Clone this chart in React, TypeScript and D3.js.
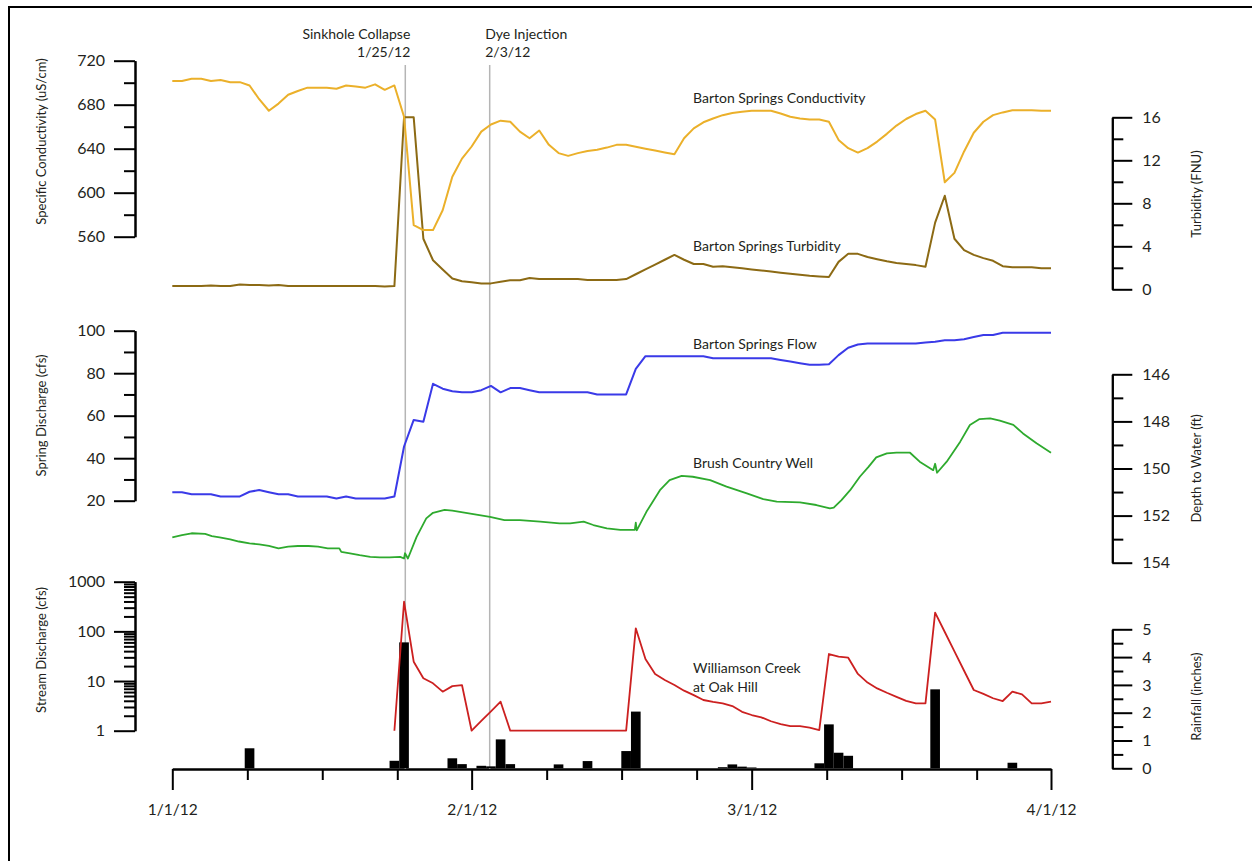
import React, { useEffect, useRef } from 'react';
import * as d3 from 'd3';

// ---- data (day offsets counted from 1/1/2012) ----
const START = Date.UTC(2012, 0, 1);
const DAY = 864e5;
const toDate = (d: number) => new Date(START + d * DAY);

const monthStarts = [0, 31, 60, 91];
const monthLabels = ['1/1/12', '2/1/12', '3/1/12', '4/1/12'];
const weekOffsets = [7.77, 15.53, 23.3];

const events = [
  { day: 24.13, name: 'Sinkhole Collapse', date: '1/25/12', side: 'left' },
  { day: 32.87, name: 'Dye Injection', date: '2/3/12', side: 'right' },
];

// daily values, day 0..91
const conductivity = [
  701.5, 701.5, 703.5, 703.5, 701.5, 702.5, 700.5, 700.5, 697.5, 685,
  674.5, 681, 689, 692.5, 695.5, 695.5, 695.5, 694.5, 697.5, 696.5,
  695.5, 698.5, 693.5, 697.5, 669, 570.5, 566, 566, 584, 614.5,
  631, 642, 655.5, 662, 665.5, 664.5, 655.5, 649.5, 656.5, 643.5,
  636, 633.5, 636, 638, 639, 641, 643.5, 643.5, 641.8, 640,
  638.3, 636.6, 635, 649.5, 658.5, 664, 667.5, 670.5, 672.5, 673.5,
  674.5, 674.5, 674.5, 672, 669, 667.5, 666.5, 666.5, 664.5, 648,
  640.5, 636.5, 640.5, 646.5, 653.5, 661, 667, 671.5, 674.5, 666.5,
  609.5, 618, 637.5, 654.5, 664.5, 670.5, 673, 675, 675, 675,
  674.5, 674.5,
];

const turbidity = [
  0.3, 0.3, 0.3, 0.3, 0.35, 0.3, 0.3, 0.45, 0.4, 0.4,
  0.35, 0.4, 0.3, 0.3, 0.3, 0.3, 0.3, 0.3, 0.3, 0.3,
  0.3, 0.3, 0.25, 0.3, 16, 16, 4.7, 2.7, 1.85, 1.0,
  0.75, 0.65, 0.55, 0.55, 0.7, 0.85, 0.85, 1.05, 0.95, 0.95,
  0.95, 0.95, 0.95, 0.87, 0.87, 0.87, 0.87, 0.95, 1.4, 1.85,
  2.3, 2.75, 3.2, 2.75, 2.35, 2.35, 2.1, 2.15, 2.05, 1.95,
  1.85, 1.75, 1.65, 1.55, 1.45, 1.35, 1.25, 1.2, 1.15, 2.55,
  3.3, 3.3, 3.0, 2.8, 2.6, 2.45, 2.35, 2.25, 2.1, 6.2,
  8.7, 4.7, 3.65, 3.2, 2.9, 2.65, 2.15, 2.05, 2.05, 2.05,
  1.95, 1.95,
];

const springFlow = [
  24, 24, 23, 23, 23, 22, 22, 22, 24.2, 25,
  24, 23, 23, 22, 22, 22, 22, 21, 22, 21,
  21, 21, 21, 22, 45.5, 58, 57.2, 75, 72.7, 71.5,
  71, 71, 72, 74, 71, 73, 73, 72, 71, 71,
  71, 71, 71, 71, 70, 70, 70, 70, 82, 88,
  88, 88, 88, 88, 88, 88, 87, 87, 87, 87,
  87, 87, 87, 86.2, 85.5, 84.7, 84, 84, 84.2, 88.5,
  92, 93.5, 94, 94, 94, 94, 94, 94, 94.4, 94.8,
  95.5, 95.5, 96, 97, 98, 98, 99, 99, 99, 99,
  99, 99,
];

const wellDays = [
  0, 1, 2, 3.4, 4.1, 4.9, 6, 6.9, 8, 9, 10, 11, 12, 13, 14.1, 15.1, 16.1, 17.3, 17.5,
  18.4, 19.4, 20.5, 21.5, 22.5, 23.6, 24, 24.1, 24.4, 25.3, 26.3, 27, 28.2, 29, 30.4,
  31.8, 32.9, 34.4, 36, 38.1, 40.1, 41.2, 42.6, 43.6, 45, 46.4, 47.9, 48, 48.1, 49.1,
  50.5, 51.5, 52.75, 53.9, 55.7, 57.4, 59.5, 61.2, 62.6, 65, 66.7, 68.1, 68.5, 69.3,
  70.2, 71.2, 72.1, 72.9, 74, 75, 76.4, 77.4, 78.8, 79, 79.2, 80.2, 81.6, 82.6, 83.6,
  84.7, 85.7, 87.1, 88.1, 89.5, 91,
];
const wellDepth = [
  152.92, 152.83, 152.75, 152.78, 152.87, 152.92, 153.01, 153.1, 153.18, 153.22, 153.29,
  153.39, 153.32, 153.29, 153.29, 153.32, 153.39, 153.39, 153.54,
  153.6, 153.68, 153.75, 153.77, 153.77, 153.75, 153.82, 153.6, 153.82, 152.9, 152.12,
  151.88, 151.76, 151.79, 151.88,
  151.98, 152.05, 152.19, 152.19, 152.26, 152.33, 152.33, 152.26, 152.4, 152.54, 152.61,
  152.61, 152.3, 152.63, 151.84,
  150.92, 150.49, 150.31, 150.35, 150.49, 150.77, 151.06, 151.3, 151.41, 151.44, 151.55,
  151.69, 151.66, 151.34,
  150.92, 150.35, 149.93, 149.53, 149.36, 149.33, 149.33, 149.71, 150.07, 149.8, 150.18,
  149.71, 148.86, 148.15, 147.9,
  147.87, 147.97, 148.15, 148.51, 148.93, 149.33,
];

// Williamson Creek daily discharge, day 23..91
const streamStartDay = 23;
const streamCfs = [
  1.0, 395, 24.5, 11.4, 9, 6.1, 7.9, 8.3, 1.0, 1.57,
  2.45, 3.84, 1, 1, 1, 1, 1, 1, 1, 1,
  1, 1, 1, 1, 1, 115, 27.8, 13.9, 10.5, 8.3,
  6.4, 5.2, 4.15, 3.8, 3.56, 3.14, 2.4, 2.07, 1.86, 1.55,
  1.36, 1.24, 1.24, 1.15, 1.03, 35, 30.9, 29.5, 13.9, 9.3,
  7.1, 5.8, 4.8, 4.0, 3.56, 3.56, 238, 97, 39.5, 16.1,
  6.6, 5.5, 4.5, 3.96, 6.1, 5.4, 3.56, 3.56, 3.84,
];

const rainDays = [8, 23, 24, 29, 30, 32, 33, 34, 35, 40, 43, 47, 48, 57, 58, 59, 60, 67, 68, 69, 70, 79, 87];
const rainInches = [
  0.72, 0.27, 4.53, 0.36, 0.15, 0.09, 0.07, 1.04, 0.15, 0.14, 0.26, 0.62, 2.04,
  0.04, 0.14, 0.06, 0.03, 0.18, 1.58, 0.56, 0.45, 2.84, 0.2,
];

const condTicks = [560, 600, 640, 680, 720];
const turbTicks = [0, 4, 8, 12, 16];
const flowTicks = [20, 40, 60, 80, 100];
const depthTicks = [146, 148, 150, 152, 154];
const streamTicks = [1, 10, 100, 1000];
const rainTicks = [0, 1, 2, 3, 4, 5];

const FONT = 'Lato, "Open Sans", sans-serif';
const INK = '#231f20';

const App: React.FC = () => {
  const svgRef = useRef<SVGSVGElement>(null);

  useEffect(() => {
    if (!svgRef.current) return;
    const svg = d3.select(svgRef.current);
    svg.selectAll('*').remove();

    const x = d3.scaleUtc().domain([toDate(0), toDate(91)]).range([172.3, 1051]);

    const yCond = d3.scaleLinear().domain([560, 720]).range([236.7, 60.7]);
    const yTurb = d3.scaleLinear().domain([0, 16]).range([289.3, 117.3]);
    const yFlow = d3.scaleLinear().domain([20, 100]).range([500.7, 330.7]);
    const yDepth = d3.scaleLinear().domain([146, 154]).range([374.3, 562.7]);
    const yStream = d3.scaleLog().domain([1, 1000]).range([730.7, 581.7]);
    const yRain = d3.scaleLinear().domain([0, 5]).range([768.3, 629.3]);

    const LEFT = 135;
    const RIGHT = 1112.3;
    const BASE = 769;

    // frame
    svg.append('line').attr('x1', 8).attr('x2', 1252).attr('y1', 7).attr('y2', 7)
      .attr('stroke', '#000').attr('stroke-width', 2);
    svg.append('line').attr('x1', 9).attr('x2', 9).attr('y1', 6).attr('y2', 861)
      .attr('stroke', '#000').attr('stroke-width', 2);

    const styleAxis = (g: d3.Selection<SVGGElement, unknown, null, undefined>) => {
      g.selectAll('path.domain').attr('stroke', '#000').attr('stroke-width', 2);
      g.selectAll('.tick line').attr('stroke', '#000').attr('stroke-width', 2);
      g.selectAll('.tick text').attr('fill', INK).style('font-family', FONT).style('font-size', '16px');
    };

    const midpoints = (t: number[]) => t.slice(0, -1).map((v, i) => (v + t[i + 1]) / 2);

    const leftAxis = (scale: any, major: number[], minor: number[]) => {
      const gm = svg.append('g').attr('transform', `translate(${LEFT},0)`)
        .call(d3.axisLeft(scale).tickValues(minor).tickSize(11).tickSizeOuter(0).tickFormat(() => ''));
      styleAxis(gm);
      const g = svg.append('g').attr('transform', `translate(${LEFT},0)`)
        .call(d3.axisLeft(scale).tickValues(major).tickSize(21).tickPadding(9).tickSizeOuter(0)
          .tickFormat((d: any) => String(d)));
      styleAxis(g);
    };
    const rightAxis = (scale: any, major: number[], minor: number[]) => {
      const gm = svg.append('g').attr('transform', `translate(${RIGHT},0)`)
        .call(d3.axisRight(scale).tickValues(minor).tickSize(11).tickSizeOuter(0).tickFormat(() => ''));
      styleAxis(gm);
      const g = svg.append('g').attr('transform', `translate(${RIGHT},0)`)
        .call(d3.axisRight(scale).tickValues(major).tickSize(20).tickPadding(10).tickSizeOuter(0)
          .tickFormat((d: any) => String(d)));
      styleAxis(g);
    };

    leftAxis(yCond, condTicks, midpoints(condTicks));
    rightAxis(yTurb, turbTicks, midpoints(turbTicks));
    leftAxis(yFlow, flowTicks, midpoints(flowTicks));
    rightAxis(yDepth, depthTicks, midpoints(depthTicks));
    const logMinor = streamTicks.slice(0, -1).flatMap((p) => d3.range(2, 10).map((k) => k * p));
    leftAxis(yStream, streamTicks, logMinor);
    rightAxis(yRain, rainTicks, midpoints(rainTicks));

    // bottom time axis
    const minorDates = monthStarts.slice(0, -1).flatMap((m) => weekOffsets.map((o) => toDate(m + o)));
    const bm = svg.append('g').attr('transform', `translate(0,${BASE})`)
      .call(d3.axisBottom(x).tickValues(minorDates).tickSize(11).tickSizeOuter(0).tickFormat(() => ''));
    styleAxis(bm);
    const bx = svg.append('g').attr('transform', `translate(0,${BASE})`)
      .call(d3.axisBottom(x).tickValues(monthStarts.map(toDate)).tickSize(21).tickPadding(14).tickSizeOuter(0)
        .tickFormat((_d: any, i: number) => monthLabels[i]));
    styleAxis(bx);
    bx.selectAll('.tick text').style('font-size', '15.5px');

    // axis titles
    const vTitle = (cx: number, cy: number, text: string) =>
      svg.append('text').attr('transform', `translate(${cx},${cy}) rotate(-90)`)
        .attr('text-anchor', 'middle').attr('dy', '0.35em')
        .style('font-family', FONT).style('font-size', '13px').attr('fill', INK).text(text);
    vTitle(41.7, 141.5, 'Specific Conductivity (uS/cm)');
    vTitle(41.7, 415.5, 'Spring Discharge (cfs)');
    vTitle(41.7, 650, 'Stream Discharge (cfs)');
    vTitle(1196.7, 194, 'Turbidity (FNU)');
    vTitle(1196.7, 468.3, 'Depth to Water (ft)');
    vTitle(1196.7, 696.7, 'Rainfall (inches)');

    // event lines
    events.forEach((e) => {
      const ex = x(toDate(e.day));
      svg.append('line').attr('x1', ex).attr('x2', ex).attr('y1', 65).attr('y2', BASE)
        .attr('stroke', '#b5b5b5').attr('stroke-width', 1.5);
      const anchor = e.side === 'left' ? 'end' : 'start';
      const tx = e.side === 'left' ? ex + 5 : ex - 4.5;
      svg.append('text').attr('x', tx).attr('y', 38.5).attr('text-anchor', anchor)
        .style('font-family', FONT).style('font-size', '14px').attr('fill', INK).text(e.name);
      svg.append('text').attr('x', tx).attr('y', 57).attr('text-anchor', anchor)
        .style('font-family', FONT).style('font-size', '14px').attr('fill', INK).text(e.date);
    });

    // rainfall bars
    svg.append('g').selectAll('rect').data(rainDays).join('rect')
      .attr('x', (d) => x(toDate(d - 0.5)))
      .attr('width', (d) => x(toDate(d + 0.5)) - x(toDate(d - 0.5)))
      .attr('y', (_d, i) => yRain(rainInches[i]))
      .attr('height', (_d, i) => yRain(0) - yRain(rainInches[i]))
      .attr('fill', '#000');

    // series lines
    const daily = (vals: number[], start = 0) => vals.map((v, i) => ({ t: toDate(start + i), v }));
    const drawLine = (pts: { t: Date; v: number }[], y: any, color: string, w: number) => {
      const line = d3.line<{ t: Date; v: number }>().x((d) => x(d.t)).y((d) => y(d.v));
      svg.append('path').attr('d', line(pts) as string).attr('fill', 'none')
        .attr('stroke', color).attr('stroke-width', w).attr('stroke-linejoin', 'round');
    };

    drawLine(daily(turbidity), yTurb, '#8c6a14', 2);
    drawLine(daily(conductivity), yCond, '#ebb02a', 2);
    drawLine(daily(springFlow), yFlow, '#3a3ae8', 2);
    drawLine(wellDays.map((d, i) => ({ t: toDate(d), v: wellDepth[i] })), yDepth, '#2eaa2e', 1.8);
    drawLine(daily(streamCfs, streamStartDay), yStream, '#cc2020', 1.8);

    // series labels
    const labels = [
      { y: 98.3, text: 'Barton Springs Conductivity' },
      { y: 246, text: 'Barton Springs Turbidity' },
      { y: 344, text: 'Barton Springs Flow' },
      { y: 462.7, text: 'Brush Country Well' },
      { y: 668.3, text: 'Williamson Creek' },
      { y: 686.7, text: 'at Oak Hill' },
    ];
    labels.forEach((l) => {
      svg.append('text').attr('x', 693).attr('y', l.y).attr('dy', '0.35em')
        .style('font-family', FONT).style('font-size', '14px').attr('fill', INK).text(l.text);
    });
  }, []);

  return (
    <svg
      ref={svgRef}
      width={1252}
      height={861}
      style={{ position: 'fixed', left: 0, top: 0, background: '#fff' }}
    />
  );
};

export default App;
